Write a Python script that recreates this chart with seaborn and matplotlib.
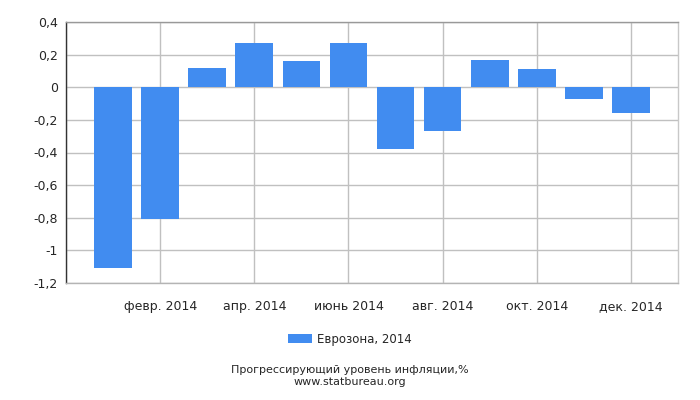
import numpy as np
import pandas as pd
import matplotlib
matplotlib.use("Agg")
import matplotlib.pyplot as plt
import matplotlib.ticker as mticker
import seaborn as sns

# data
months = ['янв. 2014', 'февр. 2014', 'март 2014', 'апр. 2014', 'май 2014', 'июнь 2014',
          'июль 2014', 'авг. 2014', 'сент. 2014', 'окт. 2014', 'нояб. 2014', 'дек. 2014']
inflation = [-1.11, -0.81, 0.12, 0.27, 0.16, 0.27, -0.38, -0.27, 0.17, 0.11, -0.07, -0.16]
series_name = 'Еврозона, 2014'
tick_months = [1, 3, 5, 7, 9, 11]
y_ticks = [0.4, 0.2, 0, -0.2, -0.4, -0.6, -0.8, -1.0, -1.2]

df = pd.DataFrame({'month': months, 'value': inflation})

sns.set_style('white')
plt.rcParams['font.family'] = ['DejaVu Sans']

fig = plt.figure(figsize=(7, 4), dpi=100)
ax = fig.add_axes([0.0943, 0.2925, 0.8743, 0.6525])

bar_color = '#418CF0'
sns.barplot(data=df, x='month', y='value', color=bar_color, saturation=1,
            width=0.8, ax=ax, label=series_name, linewidth=0, zorder=3)
if ax.get_legend() is not None:
    ax.get_legend().remove()

# axes formatting
ax.set_xlim(-1, 12)
ax.set_ylim(-1.2, 0.4)
ax.set_xticks([-1] + tick_months)
ax.set_xticklabels([''] + [months[i] for i in tick_months], fontsize=9)
ax.set_yticks(y_ticks)


def ru_fmt(v, pos):
    s = f'{v:.1f}'
    if s.endswith('.0'):
        s = s[:-2]
    if s == '-0':
        s = '0'
    return s.replace('.', ',')


ax.yaxis.set_major_formatter(mticker.FuncFormatter(ru_fmt))
ax.tick_params(axis='y', labelsize=9, length=4, width=1, color='#333333', pad=2)
ax.tick_params(axis='x', length=4, width=1, color='#333333', pad=8)
ax.set_xlabel('')
ax.set_ylabel('')

ax.grid(True, color='#c0c0c0', linewidth=1, zorder=0)
ax.set_axisbelow(True)

for side in ['top', 'right', 'left', 'bottom']:
    ax.spines[side].set_visible(True)
    ax.spines[side].set_linewidth(1)
ax.spines['left'].set_color('#333333')
ax.spines['bottom'].set_color('#b4b4b4')
ax.spines['top'].set_color('#999999')
ax.spines['right'].set_color('#c8c8c8')

# legend and caption below the plot
handles, labels = ax.get_legend_handles_labels()
fig.legend(handles[:1], labels[:1], loc='center', bbox_to_anchor=(0.5, 0.1525),
           frameon=False, fontsize=8.5, handlelength=2.0, handleheight=0.9,
           handletextpad=0.4)

fig.text(0.5, 0.076, 'Прогрессирующий уровень инфляции,%', ha='center', va='center',
         fontsize=8)
fig.text(0.5, 0.045, 'www.statbureau.org', ha='center', va='center', fontsize=8)

fig.savefig('out.png', dpi=100)
